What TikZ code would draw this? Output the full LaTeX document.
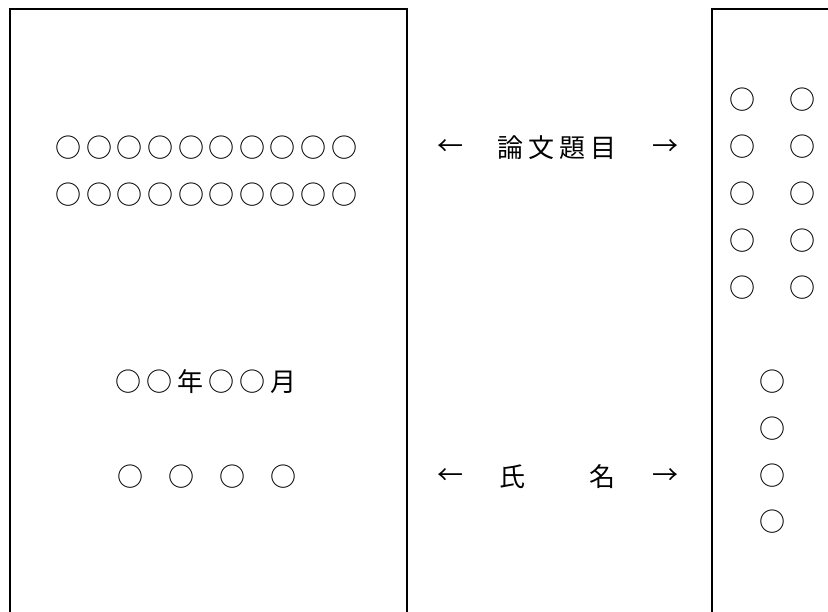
\documentclass[tikz,border=0pt]{standalone}
\usepackage{fontspec}
\newfontfamily\jpfont{Noto Sans CJK JP}
\usetikzlibrary{positioning}
\newcommand{\jgap}{\hspace{5pt}}
\tikzset{
    x=1pt, y=-1pt, % one unit is one pixel of the sheet, y runs downwards
    frame/.style={line width=2.8pt}, % the edges of the two sheets
    txt/.style={font=\jpfont\fontsize{26}{26}\selectfont, inner sep=0pt}, % every printed character
}

\begin{document}
\begin{tikzpicture}
    \useasboundingbox (0,0) rectangle (828,612);
    % cover sheet and spine
    \draw[frame] (10,630) -- (10,9) -- (407,9) -- (407,630);
    \draw[frame] (712,630) -- (712,9) -- (850,9);
    % cover
    \foreach \i in {0,...,9} {
        \node[txt] (ta\i) at (68.7+30.6*\i,148) {○};
        \node[txt] (tb\i) at (68.7+30.6*\i,195) {○};
    }
    \node[txt] (date) at (206,382) {○\jgap{}○\jgap{}年\jgap{}○\jgap{}○\jgap{}月};
    \foreach \i in {0,...,3}
        \node[txt] (nm\i) at (130+51*\i,477) {○};
    % labels between the sheets
    \node[txt] (tl) at (450,148) {←};
    \node[txt] (title) at (557,148) {論\jgap{}文\jgap{}題\jgap{}目};
    \node[txt] (tr) at (665,148) {→};
    \node[txt] (nl) at (450,477) {←};
    \node[txt] (shi) at (512,477) {氏};
    \node[txt] (mei) at (602,477) {名};
    \node[txt] (nr) at (665,477) {→};
    % spine
    \foreach \j in {0,...,4} {
        \node[txt] (sa\j) at (742,100+46.8*\j) {○};
        \node[txt] (sb\j) at (802,100+46.8*\j) {○};
    }
    \foreach \j in {0,...,3}
        \node[txt] (sn\j) at (772,382+46.7*\j) {○};
\end{tikzpicture}
\end{document}
